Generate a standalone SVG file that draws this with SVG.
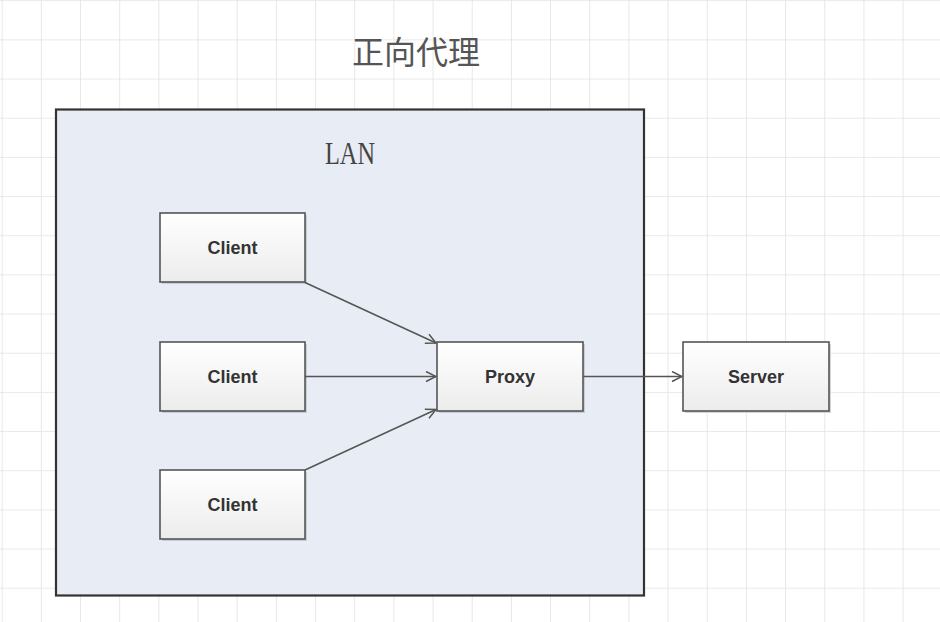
<svg xmlns="http://www.w3.org/2000/svg" width="940" height="622" viewBox="0 0 940 622">
<defs>
<pattern id="grid" x="1.7" y="0.2" width="39.17" height="39.17" patternUnits="userSpaceOnUse">
<path d="M0 0V39.17M0 0H39.17" fill="none" stroke="#e2e2e2" stroke-width="1.6"/>
</pattern>
<linearGradient id="boxfill" x1="0" y1="0" x2="0" y2="1">
<stop offset="0" stop-color="#ffffff"/>
<stop offset="1" stop-color="#ececec"/>
</linearGradient>
<marker id="arrow" viewBox="0 0 12 12" refX="11" refY="6" markerWidth="12" markerHeight="12" markerUnits="userSpaceOnUse" orient="auto">
<path d="M1 1L11 6L1 11" fill="none" stroke="#555" stroke-width="1.5"/>
</marker>
</defs>
<style>
.box{fill:url(#boxfill);stroke:#555;stroke-width:1.6}
.shadow{fill:#c8ccd4}
.lbl{font-family:"Liberation Sans",Arial,sans-serif;font-weight:bold;font-size:18px;fill:#333;text-anchor:middle}
.conn{fill:none;stroke:#555;stroke-width:1.5;marker-end:url(#arrow)}
</style>
<rect width="940" height="622" fill="#ffffff"/>
<rect width="940" height="622" fill="url(#grid)"/>
<text x="416" y="64" font-family="'Noto Sans CJK SC',sans-serif" font-size="32" fill="#555" text-anchor="middle">正向代理</text>
<g id="lan">
<rect x="56" y="109.5" width="588" height="486" fill="#e8ecf4" stroke="#333" stroke-width="2.2"/>
<text x="350" y="164" font-family="'Liberation Serif','Times New Roman',serif" font-size="32" fill="#444" text-anchor="middle" textLength="50" lengthAdjust="spacingAndGlyphs">LAN</text>
</g>
<g id="client1">
<rect class="shadow" x="162" y="215" width="145" height="69"/>
<rect class="box" x="160" y="213" width="145" height="69"/>
<text class="lbl" x="232.5" y="254">Client</text>
</g>
<g id="client2">
<rect class="shadow" x="162" y="344" width="145" height="69"/>
<rect class="box" x="160" y="342" width="145" height="69"/>
<text class="lbl" x="232.5" y="383">Client</text>
</g>
<g id="client3">
<rect class="shadow" x="162" y="472" width="145" height="69"/>
<rect class="box" x="160" y="470" width="145" height="69"/>
<text class="lbl" x="232.5" y="511">Client</text>
</g>
<g id="proxy">
<rect class="shadow" x="439" y="344" width="146" height="69"/>
<rect class="box" x="437" y="342" width="146" height="69"/>
<text class="lbl" x="510" y="383">Proxy</text>
</g>
<g id="server">
<rect fill="#d4d4d4" x="685" y="344" width="146" height="69"/>
<rect class="box" x="683" y="342" width="146" height="69"/>
<text class="lbl" x="756" y="383">Server</text>
</g>
<g id="connectors">
<path class="conn" d="M305 282.5L436 343"/>
<path class="conn" d="M305 376.5H436"/>
<path class="conn" d="M305 470L436 409.5"/>
<path class="conn" d="M583 376.5H682"/>
</g>
</svg>
